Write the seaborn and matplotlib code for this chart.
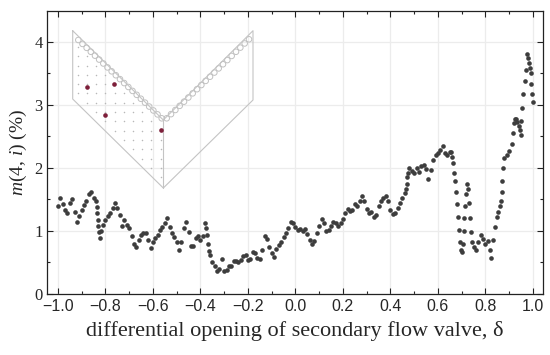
import numpy as np
import pandas as pd
import seaborn as sns
import matplotlib
matplotlib.use("Agg")
import matplotlib.pyplot as plt
import matplotlib.ticker as tick

# values
delta = [
    -1.00, -0.99, -0.98, -0.97, -0.96, -0.95, -0.94, -0.93, -0.92, -0.91, -0.90, -0.89, -0.88, -0.87,
    -0.86, -0.85, -0.84, -0.836, -0.834, -0.832, -0.830, -0.828, -0.825, -0.82, -0.81, -0.80, -0.79,
    -0.78, -0.77, -0.76, -0.75, -0.74, -0.73, -0.72, -0.71, -0.70, -0.69, -0.68, -0.67, -0.66,
    -0.65, -0.64, -0.63, -0.62, -0.61, -0.60, -0.59, -0.58, -0.57, -0.56, -0.55, -0.54, -0.53, -0.52,
    -0.51, -0.50, -0.49, -0.48, -0.47, -0.46, -0.45, -0.44, -0.43, -0.42, -0.41, -0.40, -0.39, -0.38,
    -0.375, -0.372, -0.369, -0.366, -0.36, -0.35, -0.34, -0.33, -0.32,
    -0.31, -0.30, -0.29, -0.28, -0.27, -0.26, -0.25, -0.24, -0.23, -0.22, -0.21, -0.20, -0.19, -0.18,
    -0.17, -0.16, -0.15, -0.14, -0.13, -0.12, -0.11, -0.10, -0.09, -0.08, -0.07, -0.06, -0.05, -0.04,
    -0.03, -0.02, -0.01, 0.00, 0.01,
    0.02, 0.03, 0.04, 0.05, 0.06, 0.07, 0.08, 0.09, 0.10, 0.11, 0.12, 0.13, 0.14, 0.15, 0.16, 0.17,
    0.18, 0.19, 0.20, 0.21, 0.22, 0.23, 0.24, 0.25, 0.26, 0.27, 0.28, 0.29, 0.30, 0.31, 0.32, 0.33,
    0.34, 0.35,
    0.36, 0.37, 0.38, 0.39, 0.40, 0.41, 0.42, 0.43, 0.44, 0.45, 0.46, 0.465, 0.47, 0.472, 0.475, 0.48,
    0.49, 0.50, 0.51, 0.52, 0.53, 0.54, 0.55, 0.56, 0.57, 0.58, 0.59, 0.60, 0.61, 0.62, 0.63, 0.64,
    0.65, 0.655, 0.66, 0.664, 0.668, 0.672, 0.676, 0.68, 0.684, 0.688, 0.692, 0.696, 0.70, 0.704,
    0.708, 0.712, 0.716, 0.72, 0.724, 0.728, 0.732, 0.736, 0.74, 0.745, 0.75, 0.76, 0.77, 0.78, 0.79,
    0.80, 0.81, 0.82, 0.825, 0.83, 0.84, 0.85, 0.855, 0.86, 0.864, 0.868, 0.872, 0.876, 0.88, 0.89,
    0.90, 0.91, 0.915, 0.92, 0.925, 0.93, 0.935, 0.94, 0.945, 0.948, 0.952, 0.955, 0.96, 0.965, 0.97,
    0.974, 0.978, 0.982, 0.986, 0.99, 0.994, 0.997, 1.00,
]
m_pct = [
    1.40, 1.52, 1.42, 1.33, 1.28, 1.45, 1.50, 1.30, 1.14, 1.24, 1.34, 1.41, 1.48, 1.58,
    1.61, 1.53, 1.48, 1.38, 1.28, 1.18, 1.08, 0.98, 0.88, 1.00, 1.10, 1.18, 1.24,
    1.28, 1.36, 1.45, 1.36, 1.26, 1.08, 1.18, 1.10, 1.04, 0.92, 0.79, 0.75, 0.86,
    0.93, 0.97, 0.96, 0.85, 0.73, 0.82, 0.89, 0.94, 1.02, 1.07, 1.12, 1.20, 1.06, 0.97,
    0.90, 0.82, 0.70, 0.82, 1.04, 1.14, 0.98, 0.76, 0.76, 0.89, 0.92, 0.86, 0.92, 1.12,
    1.05, 0.93, 0.80, 0.68, 0.62, 0.51, 0.44, 0.36, 0.40,
    0.55, 0.37, 0.38, 0.45, 0.44, 0.52, 0.53, 0.50, 0.54, 0.61, 0.62, 0.54, 0.55, 0.67,
    0.65, 0.57, 0.55, 0.70, 0.92, 0.87, 0.75, 0.65, 0.59, 0.72, 0.78, 0.82, 0.90, 0.97,
    1.05, 1.14, 1.13, 1.06, 1.02,
    1.03, 1.00, 1.03, 0.95, 0.86, 0.80, 0.84, 0.97, 1.08, 1.19, 1.12, 1.00, 1.02, 1.08, 1.14, 1.13,
    1.08, 1.12, 1.19, 1.28, 1.35, 1.31, 1.33, 1.42, 1.40, 1.48, 1.56, 1.47, 1.35, 1.29, 1.30, 1.22,
    1.25, 1.40,
    1.48, 1.53, 1.56, 1.47, 1.33, 1.27, 1.28, 1.37, 1.44, 1.52, 1.60, 1.66, 1.75, 1.85, 1.92, 2.00,
    1.95, 1.92, 2.00, 1.94, 2.03, 2.05, 1.98, 1.82, 1.97, 2.12, 2.20, 2.23, 2.28, 2.34, 2.24, 2.21,
    2.25, 2.25, 2.18, 2.08, 1.92, 1.80, 1.62, 1.42, 1.22, 1.02, 0.82, 0.70, 0.67, 0.80,
    1.00, 1.20, 1.40, 1.58, 1.74, 1.66, 1.45, 1.20, 0.98, 0.82, 0.74, 0.70, 0.82, 0.93, 0.87,
    0.80, 0.84, 0.70, 0.57, 0.86, 1.06, 1.22, 1.30, 1.40, 1.48, 1.62, 1.80, 2.00, 2.15, 2.21,
    2.27, 2.38, 2.56, 2.72, 2.78, 2.78, 2.73, 2.67, 2.60, 2.52, 2.75, 2.95, 3.18, 3.38, 3.56,
    3.80, 3.74, 3.66, 3.58, 3.50, 3.33, 3.18, 3.05,
]
x_ticks = [-1.0, -0.8, -0.6, -0.4, -0.2, 0.0, 0.2, 0.4, 0.6, 0.8, 1.0]
y_ticks = [0, 1, 2, 3, 4]

# inset sketch (lattice outline, circles on the V arms, selected sites)
outline_x = [72.7, 72.7, 163.3, 253.0, 253.0, 163.3, 72.7]
outline_y = [30.7, 99.0, 188.0, 100.0, 30.7, 120.0, 30.7]
red_x = [86.7, 114.3, 105.0, 161.0]
red_y = [87.3, 83.7, 114.7, 130.0]

df = pd.DataFrame({"delta": delta, "m": m_pct})

sns.set_style("ticks")
plt.rcParams["font.family"] = ["Liberation Serif", "DejaVu Serif"]
plt.rcParams["mathtext.fontset"] = "custom"
plt.rcParams["mathtext.rm"] = "Liberation Serif"
plt.rcParams["mathtext.it"] = "Liberation Serif:italic"

fig = plt.figure(figsize=(5.5, 3.55), dpi=100)
ax = fig.add_axes([0.0855, 0.172, 0.9015, 0.797])

sns.scatterplot(data=df, x="delta", y="m", color="#3d3d3d", s=11, linewidth=0, ax=ax, zorder=3)

ax.set_xlim(-1.046, 1.042)
ax.set_ylim(0, 4.49)
ax.set_xticks(x_ticks)
ax.set_yticks(y_ticks)
ax.xaxis.set_major_formatter(tick.FuncFormatter(lambda v, p: ("%.1f" % v).replace("-", "\u2212")))
ax.xaxis.set_minor_locator(tick.MultipleLocator(0.1))
ax.yaxis.set_minor_locator(tick.MultipleLocator(0.5))
ax.tick_params(which="both", direction="in", top=True, right=True, width=0.8, color="#222222")
ax.tick_params(which="major", length=4)
ax.tick_params(which="minor", length=2)
ax.tick_params(axis="x", labelsize=11.5, pad=4)
ax.tick_params(axis="y", labelsize=12, pad=3)
for lab in ax.get_xticklabels():
    lab.set_fontfamily("Liberation Sans")
ax.grid(True, which="major", color="#ececec", linewidth=0.9, zorder=0)
for sp in ax.spines.values():
    sp.set_linewidth(0.9)
    sp.set_color("#222222")

ax.set_xlabel("differential opening of secondary flow valve, \u03b4", fontsize=16, labelpad=5)
ax.set_ylabel(r"$m$(4, $i$) (%)", fontsize=14, labelpad=4)

# inset drawn in pixel-like coordinates
ins = fig.add_axes([72 / 550, 1 - 190 / 355, 183 / 550, 161 / 355])
ins.set_xlim(72, 255)
ins.set_ylim(190, 29)
ins.axis("off")
ins.patch.set_alpha(0)
ins.plot(outline_x, outline_y, color="#c4c4c4", lw=0.8)
ins.plot([163.3, 163.3], [120.0, 188.0], color="#c4c4c4", lw=0.8)

# open circles along both inner arms
arm_left = np.linspace(0, 1, 21)
ins.scatter(78.3 + arm_left * (161.7 - 78.3), 40.0 + arm_left * (118.3 - 40.0),
            s=16, facecolors="none", edgecolors="#c0c0c0", linewidths=0.7)
arm_right = np.linspace(0, 1, 20)
ins.scatter(166.7 + arm_right * (249.0 - 166.7), 118.3 - arm_right * (118.3 - 39.3),
            s=16, facecolors="none", edgecolors="#c0c0c0", linewidths=0.7)

# small lattice dots in the left band
gx, gy = np.meshgrid(np.arange(77.7, 163, 9.2), np.arange(47.0, 190, 9.3))
gx, gy = gx.ravel(), gy.ravel()
upper = 30.7 + (gx - 72.7) * 0.985
lower = 99.0 + (gx - 72.7) * 0.982
keep = (gy > upper + 6) & (gy < lower - 2)
ins.scatter(gx[keep], gy[keep], s=1.2, color="#b8b8b8", linewidths=0)

ins.scatter(red_x, red_y, s=11, color="#7d1f3a", linewidths=0, zorder=4)

fig.savefig("out.png", dpi=100)
